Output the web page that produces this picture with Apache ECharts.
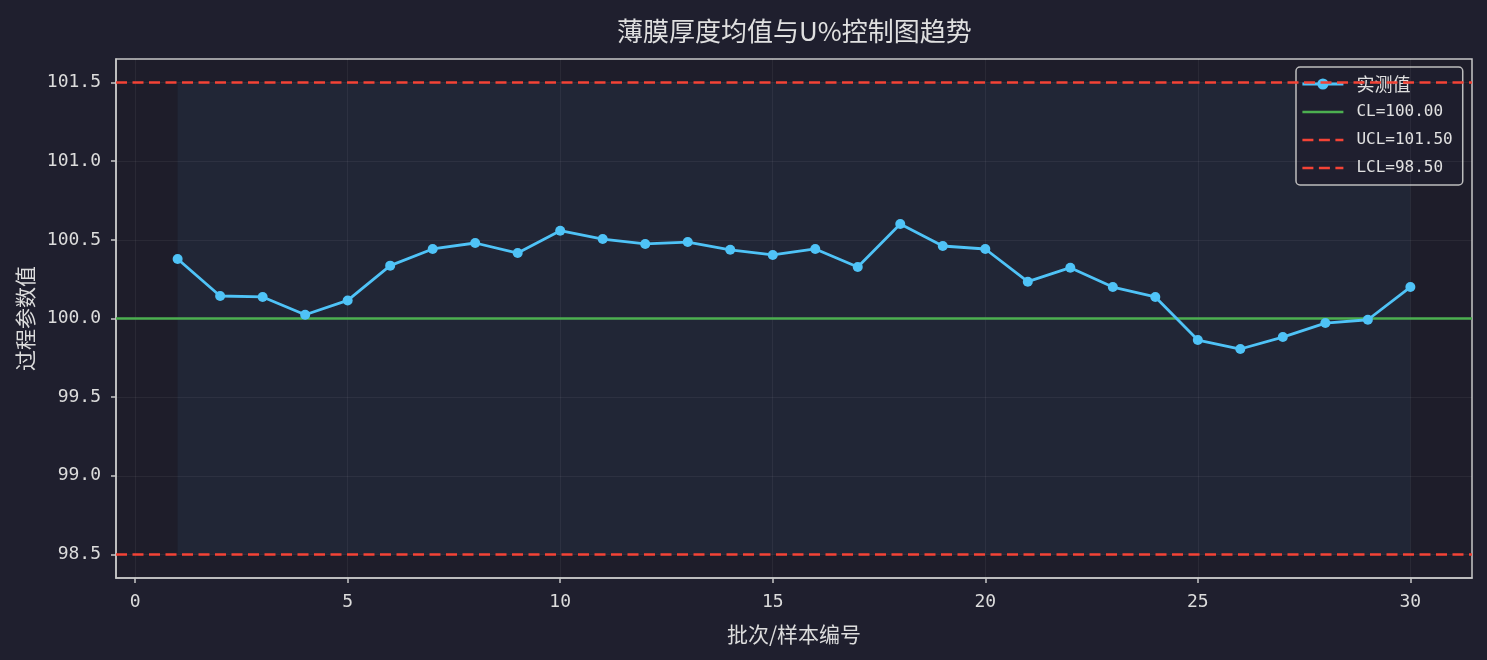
<!DOCTYPE html>
<html><head><meta charset="utf-8">
<script src="https://cdn.jsdelivr.net/npm/echarts@6/dist/echarts.min.js"></script>
<style>html,body{margin:0;padding:0;background:#1f1f2e;}#c{width:1487px;height:660px;}</style>
</head><body><div id="c"></div>
<script>
// ---- data ----
const samples = [1,2,3,4,5,6,7,8,9,10,11,12,13,14,15,16,17,18,19,20,21,22,23,24,25,26,27,28,29,30];
const measured = [100.378,100.143,100.137,100.024,100.115,100.336,100.442,100.480,100.416,100.558,
                  100.505,100.474,100.486,100.437,100.404,100.442,100.327,100.601,100.461,100.442,
                  100.234,100.323,100.200,100.137,99.863,99.806,99.882,99.971,99.992,100.200];
const CL = 100.00, UCL = 101.50, LCL = 98.50;
const xTicks = [0,5,10,15,20,25,30];
const yTicks = [98.5,99.0,99.5,100.0,100.5,101.0,101.5];
const names = ['实测值','CL=100.00','UCL=101.50','LCL=98.50'];
const titleText = '薄膜厚度均值与U%控制图趋势';
const xName = '批次/样本编号', yName = '过程参数值';

// ---- style ----
const MONO = "'DejaVu Sans Mono','Noto Sans CJK SC',monospace";
const CJK = "'Noto Sans CJK SC','DejaVu Sans',sans-serif";
const txt = '#dcdcdc';
const axisCol = '#c8c8c8';
const gridCol = 'rgba(255,255,255,0.055)';
const noSym = {color: 'transparent', borderWidth: 0, opacity: 0};
const dash = [11, 5.5];

const chart = echarts.init(document.getElementById('c'), null, {renderer:'canvas'});
const option = {
  backgroundColor: '#1f1f2e',
  animation: false,
  title: {
    text: titleText, left: 612, top: 13,
    textStyle: {color: '#e0e0e0', fontSize: 26, fontWeight: 'normal', fontFamily: CJK}
  },
  grid: {left: 116, right: 15, top: 59, bottom: 82, show: true,
         backgroundColor: '#1e1d2a', borderColor: axisCol, borderWidth: 1.5},
  legend: {
    orient: 'vertical', left: 1296, top: 67,
    data: [
      {name: names[0], lineStyle: {width: 2.8}},
      {name: names[1], itemStyle: noSym, lineStyle: {width: 2.6}},
      {name: names[2], itemStyle: noSym, lineStyle: {width: 2.6, type: dash}},
      {name: names[3], itemStyle: noSym, lineStyle: {width: 2.6, type: dash}}
    ],
    itemWidth: 41, itemHeight: 14, itemGap: 8,
    padding: [7, 10, 7, 5],
    backgroundColor: 'rgba(30,30,46,0.85)', borderColor: '#bdbdbd', borderWidth: 1.5, borderRadius: 4,
    formatter: n => n === '实测值' ? '{cjk|' + n + '}' : n,
    textStyle: {color: '#e0e0e0', fontSize: 16, fontFamily: MONO, lineHeight: 20, padding: [0,0,0,8],
      rich: {cjk: {fontSize: 18, fontFamily: CJK, color: '#e0e0e0'}}}
  },
  xAxis: {
    type: 'value', min: -0.45, max: 31.45,
    name: xName, nameLocation: 'middle', nameGap: 46,
    nameTextStyle: {color: txt, fontSize: 21, fontFamily: CJK},
    axisLine: {show: true, onZero: false, lineStyle: {color: axisCol, width: 1.5}},
    axisTick: {show: true, length: 5, lineStyle: {color: axisCol, width: 1.5}, customValues: xTicks},
    axisLabel: {color: txt, fontSize: 18, fontFamily: MONO, margin: 15, customValues: xTicks},
    splitLine: {show: false}
  },
  yAxis: {
    type: 'value', min: 98.35, max: 101.65,
    name: yName, nameLocation: 'middle', nameGap: 79, nameRotate: 90,
    nameTextStyle: {color: txt, fontSize: 21, fontFamily: CJK},
    axisLine: {show: true, onZero: false, lineStyle: {color: axisCol, width: 1.5}},
    axisTick: {show: true, length: 5, lineStyle: {color: axisCol, width: 1.5}, customValues: yTicks},
    axisLabel: {color: txt, fontSize: 18, fontFamily: MONO, margin: 15, customValues: yTicks,
                formatter: v => Number(v).toFixed(1)},
    splitLine: {show: false}
  },
  series: [
    {
      name: '_bg', type: 'line', data: [], silent: true, z: 1,
      markArea: {silent: true, itemStyle: {color: 'rgba(79,195,247,0.06)'},
        data: [[{xAxis: samples[0], yAxis: LCL}, {xAxis: samples[samples.length-1], yAxis: UCL}]]},
      markLine: {silent: true, symbol: 'none', label: {show: false},
        lineStyle: {color: gridCol, width: 1, type: 'solid'},
        data: xTicks.map(v => ({xAxis: v})).concat(yTicks.map(v => ({yAxis: v})))}
    },
    {
      name: names[1], type: 'line', data: [], symbol: 'none', z: 3,
      color: '#4caf50', lineStyle: {color: '#4caf50', width: 2.6},
      markLine: {silent: true, symbol: 'none', label: {show: false},
        lineStyle: {color: '#4caf50', width: 2.6, type: 'solid'}, data: [{yAxis: CL}]}
    },
    {
      name: names[2], type: 'line', data: [], symbol: 'none', z: 3,
      color: '#f44336', lineStyle: {color: '#f44336', width: 2.6, type: dash},
      markLine: {silent: true, symbol: 'none', label: {show: false},
        lineStyle: {color: '#f44336', width: 2.6, type: dash}, data: [{yAxis: UCL}]}
    },
    {
      name: names[3], type: 'line', data: [], symbol: 'none', z: 3,
      color: '#f44336', lineStyle: {color: '#f44336', width: 2.6, type: dash},
      markLine: {silent: true, symbol: 'none', label: {show: false},
        lineStyle: {color: '#f44336', width: 2.6, type: dash}, data: [{yAxis: LCL}]}
    },
    {
      name: names[0], type: 'line', z: 5,
      data: samples.map((x, i) => [x, measured[i]]),
      symbol: 'circle', symbolSize: 10, showSymbol: true,
      color: '#4fc3f7',
      lineStyle: {color: '#4fc3f7', width: 2.8},
      itemStyle: {color: '#4fc3f7'}
    }
  ]
};
chart.setOption(option);
</script>
</body></html>
